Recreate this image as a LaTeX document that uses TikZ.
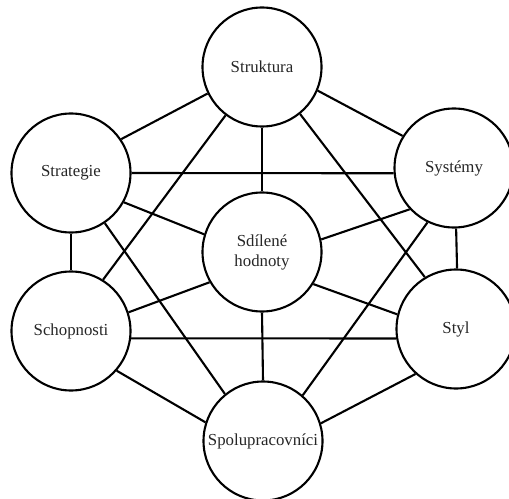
\documentclass[tikz,border=0pt]{standalone}
\usepackage{fontspec}
\setmainfont{Liberation Serif}
\begin{document}
\begin{tikzpicture}[x=1bp,y=-1bp,
  sbox/.style={circle,draw=black,line width=2.1bp,minimum size=119bp,inner sep=0pt,
    text=black!85,font=\rmfamily\fontsize{16.8bp}{20bp}\selectfont,align=center,fill=white},
  link/.style={line width=2.1bp,draw=black}]
\useasboundingbox (0,0) rectangle (509,499);
\fill[white] (0,0) rectangle (509,499);
\node[sbox] (str) at (262,67) {Struktura};
\node[sbox] (stg) at (71,173) {Strategie};
\node[sbox] (sys) at (454,168) {Systémy};
\node[sbox] (sh) at (262,252) {\rmfamily Sdílené\\\rmfamily hodnoty};
\node[sbox] (sch) at (71,331) {Schopnosti};
\node[sbox] (sty) at (456,329) {Styl};
\node[sbox] (spo) at (263,441) {Spolupracovníci};
\draw[link] (str.206) -- (stg.34.5);
\draw[link] (str.-23.7) -- (sys.148.7);
\draw[link] (str.-90) -- (sh.90);
\draw[link] (str.233.5) -- (sch.58.9);
\draw[link] (str.-51.3) -- (sty.121.3);
\draw[link] (stg.0) -- (sys.185);
\draw[link] (stg.-29.9) -- (sh.163.7);
\draw[link] (stg.-90) -- (sch.90);
\draw[link] (stg.-56.3) -- (spo.129);
\draw[link] (sys.223.7) -- (sh.12.9);
\draw[link] (sys.-88) -- (sty.89);
\draw[link] (sys.244.7) -- (spo.49.7);
\draw[link] (sh.210.8) -- (sch.18.4);
\draw[link] (sh.-32.9) -- (sty.166.4);
\draw[link] (sh.-90) -- (spo.90);
\draw[link] (sch.-7.7) -- (sty.189.6);
\draw[link] (sch.-41.7) -- (spo.162.5);
\draw[link] (sty.228.4) -- (spo.17.2);
\end{tikzpicture}
\end{document}
